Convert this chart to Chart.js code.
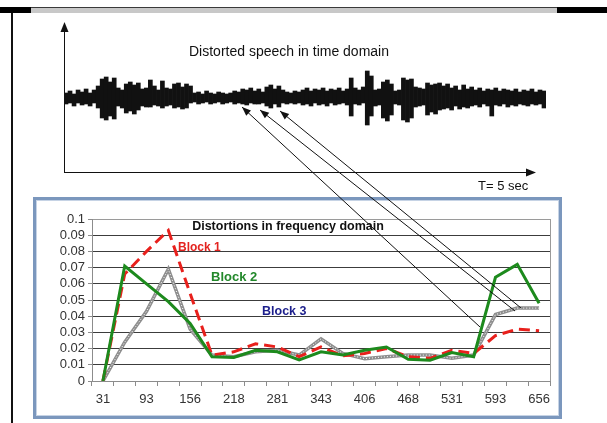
<!DOCTYPE html>
<html>
<head>
<meta charset="utf-8">
<script src="https://cdn.jsdelivr.net/npm/chart.js@4.4.0/dist/chart.umd.min.js"></script>
<style>
  html, body { margin: 0; padding: 0; background: #fff; }
  body { width: 607px; height: 423px; position: relative; overflow: hidden; font-family: "Liberation Sans", Arial, sans-serif; }
  .band { position: absolute; top: 7px; height: 6px; }
  #bandL { left: 0; width: 31px; background: #000; }
  #bandM { left: 31px; width: 526px; height: 5px; background: #c8c8c8; border-top: 1px solid #3a3a3a; }
  #bandR { left: 557px; width: 50px; background: #000; }
  #leftLine { position: absolute; left: 11px; top: 13px; width: 2px; height: 410px; background: #111; }
  #freqBox { position: absolute; left: 33px; top: 197px; width: 523px; height: 216px;
             border: 3px solid #7b97bd; box-shadow: inset 0 0 0 1px #c6d3e5; background: #fff; }
  #freqChart { position: absolute; left: 0; top: 0; }
  #timeChart { position: absolute; left: 0; top: 0; z-index: 2; pointer-events: none; }
</style>
</head>
<body>
<div class="band" id="bandL"></div>
<div class="band" id="bandM"></div>
<div class="band" id="bandR"></div>
<div id="leftLine"></div>
<div id="freqBox"><canvas id="freqChart" width="523" height="216"></canvas></div>
<canvas id="timeChart" width="607" height="423"></canvas>
<script>
// Frequency axis (Hz bins), labels shown every second bin
const freqBins = ["31", "62", "93", "125", "156", "187", "218", "250", "281", "312", "343",
  "375", "406", "437", "468", "500", "531", "562", "593", "625", "656"];

// Distortion per block
const block1 = [0, 0.066, 0.080, 0.093, 0.054, 0.016, 0.018, 0.023, 0.021, 0.015, 0.021,
  0.0155, 0.017, 0.020, 0.015, 0.014, 0.019, 0.017, 0.028, 0.032, 0.031];
const block2 = [0, 0.071, 0.060, 0.049, 0.0355, 0.015, 0.0145, 0.019, 0.018, 0.013, 0.018,
  0.016, 0.019, 0.021, 0.0134, 0.0128, 0.0176, 0.015, 0.064, 0.072, 0.048];
const block3 = [0, 0.024, 0.043, 0.069, 0.032, 0.016, 0.015, 0.018, 0.019, 0.016, 0.026,
  0.017, 0.0138, 0.015, 0.016, 0.016, 0.014, 0.016, 0.041, 0.045, 0.045];

// Speech waveform envelope (5 sec), upper / lower amplitude per slice
const waveUpper = [5, 7, 4, 8, 6, 9, 5, 8, 12, 19, 21, 16, 20, 10, 8, 14, 16, 13, 15, 9,
  10, 18, 12, 8, 17, 10, 9, 14, 15, 11, 14, 12, 5, 6, 4, 7, 5, 4, 6, 5,
  4, 5, 7, 6, 9, 8, 10, 7, 9, 6, 11, 13, 9, 12, 8, 6, 5, 7, 6, 8,
  10, 7, 9, 8, 10, 7, 9, 8, 10, 7, 9, 20, 10, 8, 11, 27, 22, 8, 9, 16,
  18, 14, 7, 8, 20, 18, 19, 11, 10, 9, 15, 13, 14, 15, 12, 14, 10, 12, 8, 13,
  9, 11, 8, 10, 7, 9, 8, 10, 7, 9, 8, 7, 9, 6, 8, 7, 9, 6, 8, 7];
const waveLower = [6, 5, 8, 5, 7, 6, 8, 5, 10, 20, 22, 18, 21, 8, 10, 15, 13, 16, 12, 8,
  9, 9, 7, 8, 10, 8, 7, 10, 9, 11, 10, 5, 4, 6, 5, 4, 6, 5, 4, 6,
  5, 4, 6, 5, 6, 7, 5, 6, 6, 5, 8, 10, 6, 9, 5, 6, 5, 6, 5, 7,
  6, 8, 5, 7, 6, 8, 5, 7, 6, 5, 7, 18, 6, 7, 5, 27, 18, 8, 7, 20,
  23, 17, 6, 7, 22, 24, 20, 9, 8, 7, 17, 14, 16, 12, 11, 10, 12, 8, 11, 9,
  10, 8, 7, 9, 6, 8, 18, 7, 8, 6, 9, 7, 8, 6, 7, 8, 6, 7, 6, 10];

const FONT = "Liberation Sans, Arial, sans-serif";

function arrowHead(ctx, x0, y0, x1, y1, len, half) {
  const a = Math.atan2(y1 - y0, x1 - x0);
  ctx.beginPath();
  ctx.moveTo(x1, y1);
  ctx.lineTo(x1 - len * Math.cos(a) + half * Math.sin(a), y1 - len * Math.sin(a) - half * Math.cos(a));
  ctx.lineTo(x1 - len * Math.cos(a) - half * Math.sin(a), y1 - len * Math.sin(a) + half * Math.cos(a));
  ctx.closePath();
  ctx.fill();
}

// axes, captions and the three pointer arrows of the top figure
const timeDecor = {
  id: "timeDecor",
  afterDraw(chart) {
    const ctx = chart.ctx;
    const a = chart.chartArea;
    ctx.save();
    ctx.strokeStyle = "#111";
    ctx.fillStyle = "#111";
    ctx.lineWidth = 1;
    ctx.beginPath();
    ctx.moveTo(a.left + 0.5, a.bottom);
    ctx.lineTo(a.left + 0.5, a.top + 4);
    ctx.moveTo(a.left, a.bottom + 0.5);
    ctx.lineTo(532, a.bottom + 0.5);
    ctx.stroke();
    arrowHead(ctx, a.left + 0.5, a.bottom, a.left + 0.5, a.top, 10, 4);
    arrowHead(ctx, a.left, a.bottom + 0.5, 536, a.bottom + 0.5, 10, 4);

    ctx.font = "14px " + FONT;
    ctx.textAlign = "center";
    ctx.textBaseline = "middle";
    ctx.fillText("Distorted speech in time domain", 289, 52);
    ctx.font = "13px " + FONT;
    ctx.textAlign = "left";
    ctx.fillText("T= 5 sec", 478, 186);

    const arrows = [[480, 327, 242, 107], [515, 311, 260, 110], [521, 308, 280, 111]];
    for (const [x0, y0, x1, y1] of arrows) {
      ctx.beginPath();
      ctx.moveTo(x0, y0);
      ctx.lineTo(x1, y1);
      ctx.stroke();
      arrowHead(ctx, x0, y0, x1, y1, 9, 3.5);
    }
    ctx.restore();
  },
};

new Chart(document.getElementById("timeChart"), {
  type: "bar",
  data: {
    labels: waveUpper.map((_, i) => i),
    datasets: [{
      data: waveUpper.map((u, i) => [-waveLower[i], u]),
      backgroundColor: "#111",
      barPercentage: 1,
      categoryPercentage: 1,
      borderWidth: 0,
    }],
  },
  options: {
    responsive: false,
    animation: false,
    events: [],
    layout: { padding: { left: 64, right: 61, top: 22, bottom: 251 } },
    plugins: { legend: { display: false }, tooltip: { enabled: false } },
    scales: {
      x: { display: false },
      y: { display: false, min: -74, max: 76 },
    },
  },
  plugins: [timeDecor],
});

// texts inside the frequency plot + right border
const freqDecor = {
  id: "freqDecor",
  beforeDatasetsDraw(chart) {
    const ctx = chart.ctx;
    const a = chart.chartArea;
    ctx.save();
    ctx.strokeStyle = "#9a9a9a";
    ctx.lineWidth = 1;
    ctx.beginPath();
    ctx.moveTo(Math.round(a.right) + 0.5, a.top);
    ctx.lineTo(Math.round(a.right) + 0.5, a.bottom);
    ctx.stroke();
    ctx.restore();
  },
  afterDatasetsDraw(chart) {
    const ctx = chart.ctx;
    ctx.save();
    ctx.textBaseline = "middle";
    ctx.font = "bold 12.5px " + FONT;
    ctx.textAlign = "center";
    ctx.fillStyle = "#111";
    ctx.fillText("Distortions in frequency domain", 252, 27);
    ctx.textAlign = "left";
    ctx.font = "bold 12px " + FONT;
    ctx.fillStyle = "#e3231f";
    ctx.fillText("Block 1", 142, 48);
    ctx.font = "bold 13px " + FONT;
    ctx.fillStyle = "#22882a";
    ctx.fillText("Block 2", 175, 77);
    ctx.font = "bold 12.5px " + FONT;
    ctx.fillStyle = "#1c1f8c";
    ctx.fillText("Block 3", 226, 112);
    ctx.restore();
  },
};

new Chart(document.getElementById("freqChart"), {
  type: "line",
  data: {
    labels: freqBins,
    datasets: [
      { label: "Block 2", data: block2, borderColor: "#1d8a1d", borderWidth: 3 },
      { label: "Block 1", data: block1, borderColor: "#e8201c", borderWidth: 3, borderDash: [11, 6] },
      { label: "Block 3 dots", data: block3, borderColor: "#ffffff", borderWidth: 1, borderDash: [1, 2] },
      { label: "Block 3", data: block3, borderColor: "#8e8e8e", borderWidth: 3.5 },
    ],
  },
  options: {
    responsive: false,
    animation: false,
    events: [],
    elements: { point: { radius: 0 }, line: { tension: 0, fill: false } },
    layout: { padding: { left: 0, right: 9, top: 19, bottom: 0 } },
    plugins: { legend: { display: false }, tooltip: { enabled: false } },
    scales: {
      x: {
        offset: true,
        grid: { display: true, drawOnChartArea: false, offset: true, tickLength: 5, color: "#8c8c8c" },
        border: { color: "#8c8c8c" },
        ticks: {
          autoSkip: false, maxRotation: 0, padding: 6, color: "#333",
          font: { size: 13, family: FONT },
          callback: (v, i) => (i % 2 === 0 ? freqBins[i] : ""),
        },
        afterFit: (s) => { s.height = 35; },
      },
      y: {
        min: 0,
        max: 0.1,
        ticks: {
          stepSize: 0.01, autoSkip: false, padding: 3, color: "#333",
          font: { size: 13, family: FONT },
          callback: (v) => String(Number(v.toFixed(2))),
        },
        grid: {
          color: (c) => (c.tick && c.tick.value > 0.099 ? "#9a9a9a" : "#3c3c3c"),
          tickColor: "#8c8c8c",
          tickLength: 4,
        },
        border: { color: "#8c8c8c" },
        afterFit: (s) => { s.width = 56; },
      },
    },
  },
  plugins: [freqDecor],
});
</script>
</body>
</html>
